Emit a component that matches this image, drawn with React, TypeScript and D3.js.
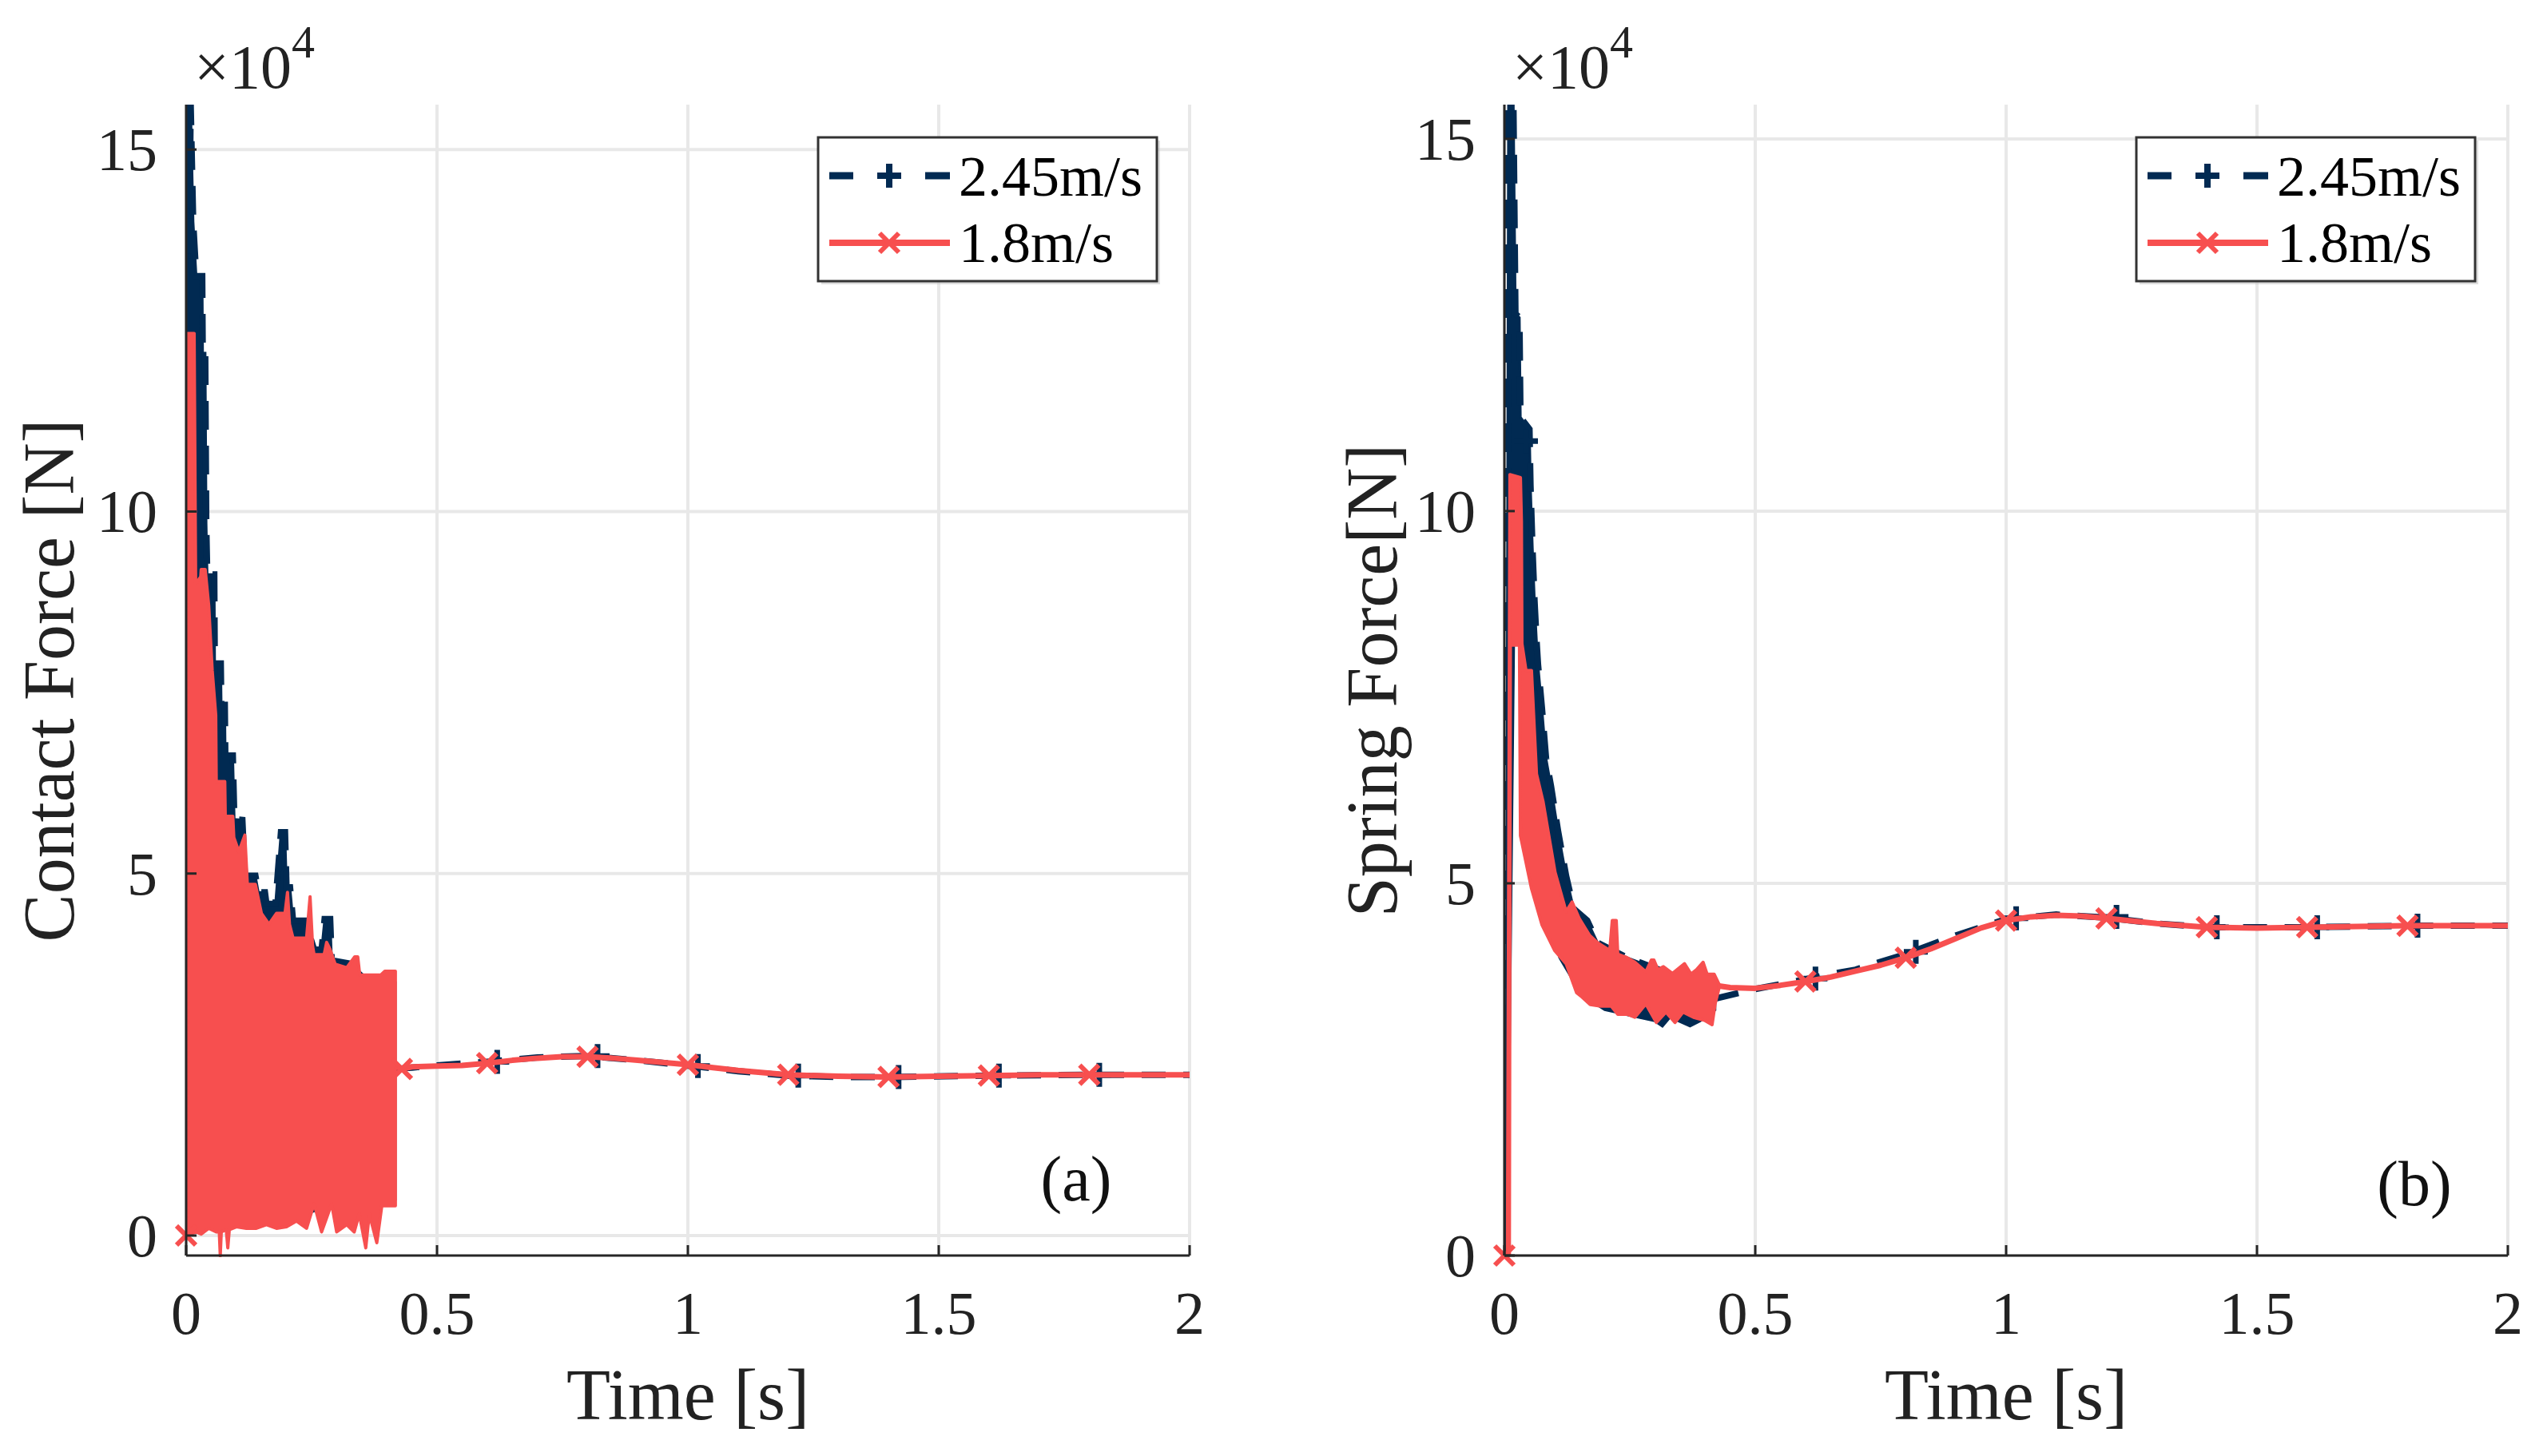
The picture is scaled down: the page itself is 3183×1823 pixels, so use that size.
import * as d3 from "d3";

// time in s, force in units of 1e4 N
const xTicks = [0, 0.5, 1, 1.5, 2];
const yTicks = [0, 5, 10, 15];
const legendNames = ["2.45m/s", "1.8m/s"];

// ---- (a) contact force, 2.45 m/s ----
const contactUpperT245 = [0, 0.001, 0.004, 0.006, 0.009, 0.014, 0.02, 0.032, 0.033, 0.038, 0.04, 0.042, 0.056, 0.057, 0.069, 0.07, 0.077, 0.078, 0.093, 0.096, 0.112, 0.117, 0.138, 0.144, 0.157, 0.16, 0.178, 0.189, 0.197, 0.2, 0.207, 0.213, 0.237, 0.255, 0.27, 0.276, 0.287, 0.29, 0.33, 0.36, 0.4, 0.417];
const contactUpperV245 = [0, 15.62, 15.62, 13.5, 15.62, 14.0, 13.25, 13.25, 12.19, 12.19, 9.83, 9.13, 9.13, 7.9, 7.9, 7.33, 7.33, 6.63, 6.63, 5.75, 5.74, 4.97, 4.97, 4.74, 4.74, 4.58, 4.58, 5.57, 5.57, 4.81, 4.81, 4.35, 4.35, 3.95, 3.95, 4.37, 4.37, 3.8, 3.75, 3.55, 3.55, 3.5];
const contactLowerT245 = [0, 0.02, 0.03, 0.06, 0.1, 0.2, 0.3, 0.417];
const contactLowerV245 = [0, 0.15, 0.1, 0.2, 0.2, 0.2, 0.45, 0.5];
const contactSteadyT245 = [0.417, 0.45, 0.5, 0.6, 0.7, 0.8, 0.9, 1.0, 1.1, 1.2, 1.3, 1.4, 1.6, 1.8, 2.0];
const contactSteadyV245 = [2.3, 2.32, 2.35, 2.4, 2.46, 2.48, 2.42, 2.35, 2.27, 2.21, 2.19, 2.19, 2.21, 2.22, 2.22];
const contactMarkT245 = [0.62, 0.82, 1.02, 1.22, 1.42, 1.62, 1.82];
const contactMarkV245 = [2.4, 2.48, 2.34, 2.21, 2.19, 2.21, 2.22];

// ---- (a) contact force, 1.8 m/s ----
const contactUpperT18 = [0, 0.002, 0.003, 0.016, 0.019, 0.029, 0.03, 0.038, 0.045, 0.052, 0.059, 0.06, 0.077, 0.078, 0.093, 0.095, 0.105, 0.117, 0.122, 0.138, 0.15, 0.165, 0.18, 0.197, 0.202, 0.206, 0.213, 0.24, 0.247, 0.252, 0.255, 0.275, 0.28, 0.287, 0.297, 0.32, 0.336, 0.342, 0.346, 0.37, 0.388, 0.396, 0.417];
const contactUpperV18 = [0, 11.0, 12.46, 12.46, 9.0, 9.1, 9.2, 9.2, 8.7, 7.8, 7.19, 6.27, 6.27, 5.79, 5.79, 5.5, 5.3, 5.53, 4.85, 4.85, 4.45, 4.3, 4.45, 4.45, 4.74, 4.3, 4.11, 4.11, 4.68, 4.0, 3.88, 3.88, 4.05, 3.95, 3.75, 3.7, 3.85, 3.85, 3.6, 3.6, 3.6, 3.65, 3.65];
const contactLowerT18 = [0, 0.01, 0.02, 0.03, 0.045, 0.06, 0.066, 0.068, 0.07, 0.08, 0.083, 0.086, 0.1, 0.12, 0.14, 0.16, 0.18, 0.2, 0.22, 0.24, 0.255, 0.27, 0.29, 0.3, 0.32, 0.335, 0.345, 0.358, 0.365, 0.38, 0.39, 0.417];
const contactLowerV18 = [0, 0.02, 0.05, 0.02, 0.1, 0.05, 0.05, -0.28, 0.05, 0.08, -0.17, 0.08, 0.12, 0.1, 0.1, 0.15, 0.1, 0.12, 0.2, 0.1, 0.44, 0.05, 0.44, 0.05, 0.15, 0.05, 0.3, -0.17, 0.3, -0.1, 0.41, 0.41];
const contactSteadyT18 = [0.417, 0.43, 0.45, 0.5, 0.55, 0.6, 0.65, 0.7, 0.75, 0.8, 0.85, 0.9, 0.95, 1.0, 1.05, 1.1, 1.15, 1.2, 1.3, 1.4, 1.5, 1.6, 1.7, 1.8, 1.9, 2.0];
const contactSteadyV18 = [2.34, 2.3, 2.33, 2.34, 2.35, 2.38, 2.42, 2.45, 2.47, 2.47, 2.45, 2.42, 2.39, 2.36, 2.32, 2.28, 2.25, 2.22, 2.2, 2.19, 2.2, 2.21, 2.22, 2.22, 2.22, 2.22];
const contactMarkT18 = [0, 0.43, 0.6, 0.8, 1.0, 1.2, 1.4, 1.6, 1.8];
const contactMarkV18 = [0, 2.3, 2.38, 2.47, 2.36, 2.22, 2.19, 2.21, 2.22];

// ---- (b) spring force, 2.45 m/s ----
const springUpperT245 = [0, 0.003, 0.008, 0.018, 0.022, 0.03, 0.032, 0.05, 0.052, 0.056, 0.06, 0.064, 0.067, 0.075, 0.083, 0.093, 0.107, 0.123, 0.138, 0.165, 0.186, 0.245, 0.3, 0.35, 0.42];
const springUpperV245 = [0, 0, 15.46, 15.46, 12.65, 12.6, 11.26, 11.1, 10.35, 9.5, 8.8, 8.27, 7.94, 7.34, 6.68, 6.3, 5.7, 5.1, 4.66, 4.5, 4.2, 4.0, 3.86, 3.75, 3.6];
const springLowerT245 = [0, 0.003, 0.006, 0.02, 0.03, 0.05, 0.075, 0.11, 0.154, 0.2, 0.3, 0.315, 0.33, 0.37, 0.39, 0.42];
const springLowerV245 = [0, 0, 0, 9.0, 9.0, 6.0, 4.8, 4.0, 3.5, 3.3, 3.15, 3.08, 3.2, 3.08, 3.15, 3.3];
const springSteadyT245 = [0.42, 0.5, 0.6, 0.65, 0.7, 0.8, 0.9, 1.0, 1.1, 1.2, 1.3, 1.4, 1.6, 1.8, 2.0];
const springSteadyV245 = [3.45, 3.58, 3.71, 3.78, 3.84, 4.05, 4.3, 4.52, 4.58, 4.54, 4.46, 4.41, 4.41, 4.43, 4.43];
const springMarkT245 = [0.043, 0.62, 0.82, 1.02, 1.22, 1.42, 1.62, 1.82];
const springMarkV245 = [10.94, 3.72, 4.08, 4.53, 4.55, 4.41, 4.41, 4.43];

// ---- (b) spring force, 1.8 m/s ----
const springUpperT18 = [0, 0.006, 0.011, 0.032, 0.034, 0.035, 0.043, 0.054, 0.064, 0.077, 0.101, 0.123, 0.135, 0.149, 0.17, 0.186, 0.21, 0.215, 0.223, 0.226, 0.245, 0.26, 0.282, 0.293, 0.298, 0.306, 0.317, 0.335, 0.359, 0.372, 0.383, 0.396, 0.404, 0.418, 0.428];
const springUpperV18 = [0, 0, 10.49, 10.45, 9.86, 8.22, 7.86, 7.86, 6.47, 6.1, 5.15, 4.62, 4.75, 4.53, 4.3, 4.2, 4.1, 4.5, 4.5, 4.05, 4.0, 3.94, 3.81, 3.97, 3.97, 3.84, 3.88, 3.79, 3.92, 3.78, 3.84, 3.94, 3.78, 3.78, 3.64];
const springLowerT18 = [0, 0.006, 0.01, 0.012, 0.03, 0.032, 0.054, 0.075, 0.1, 0.123, 0.144, 0.155, 0.171, 0.192, 0.213, 0.226, 0.245, 0.26, 0.282, 0.303, 0.322, 0.34, 0.356, 0.377, 0.399, 0.414, 0.42, 0.428];
const springLowerV18 = [0, 0, 0, 8.2, 8.2, 5.64, 4.93, 4.44, 4.1, 3.92, 3.53, 3.47, 3.37, 3.35, 3.35, 3.24, 3.24, 3.2, 3.38, 3.13, 3.27, 3.13, 3.27, 3.2, 3.16, 3.1, 3.38, 3.6];
const springSteadyT18 = [0.428, 0.45, 0.5, 0.55, 0.6, 0.65, 0.7, 0.75, 0.8, 0.85, 0.9, 0.95, 1.0, 1.05, 1.1, 1.15, 1.2, 1.3, 1.4, 1.5, 1.6, 1.7, 1.8, 1.9, 2.0];
const springSteadyV18 = [3.62, 3.6, 3.59, 3.63, 3.68, 3.74, 3.82, 3.9, 4.0, 4.12, 4.26, 4.4, 4.5, 4.55, 4.57, 4.56, 4.53, 4.46, 4.41, 4.4, 4.41, 4.42, 4.43, 4.43, 4.43];
const springMarkT18 = [0, 0.6, 0.8, 1.0, 1.2, 1.4, 1.6, 1.8];
const springMarkV18 = [0, 3.68, 4.0, 4.5, 4.53, 4.41, 4.41, 4.43];

const NAVY = "#012a52";
const RED = "#f74f4f";
const FONT = "'Liberation Serif', 'Times New Roman', serif";

type Pt = [number, number];
const zip = (t: number[], v: number[]): Pt[] => t.map((d, i) => [d, v[i]]);

type Series = {
  upperT: number[]; upperV: number[];
  lowerT: number[]; lowerV: number[];
  steadyT: number[]; steadyV: number[];
  markT: number[]; markV: number[];
};

const contact245: Series = { upperT: contactUpperT245, upperV: contactUpperV245, lowerT: contactLowerT245, lowerV: contactLowerV245, steadyT: contactSteadyT245, steadyV: contactSteadyV245, markT: contactMarkT245, markV: contactMarkV245 };
const contact18: Series = { upperT: contactUpperT18, upperV: contactUpperV18, lowerT: contactLowerT18, lowerV: contactLowerV18, steadyT: contactSteadyT18, steadyV: contactSteadyV18, markT: contactMarkT18, markV: contactMarkV18 };
const spring245: Series = { upperT: springUpperT245, upperV: springUpperV245, lowerT: springLowerT245, lowerV: springLowerV245, steadyT: springSteadyT245, steadyV: springSteadyV245, markT: springMarkT245, markV: springMarkV245 };
const spring18: Series = { upperT: springUpperT18, upperV: springUpperV18, lowerT: springLowerT18, lowerV: springLowerV18, steadyT: springSteadyT18, steadyV: springSteadyV18, markT: springMarkT18, markV: springMarkV18 };

const TOP = 131;
const BOTTOM = 1572;
const WIDTH = 1256;

const plusPath = (cx: number, cy: number) => `M${cx - 15},${cy}h30M${cx},${cy - 15}v30`;
const crossPath = (cx: number, cy: number) => `M${cx - 12},${cy - 12}l24,24M${cx + 12},${cy - 12}l-24,24`;

function Panel({ x0, yMin, yMax, ylabel, labelX, tag, tagX, tagY, s245, s18, id }: {
  x0: number; yMin: number; yMax: number; ylabel: string; labelX: number;
  tag: string; tagX: number; tagY: number; s245: Series; s18: Series; id: string;
}) {
  const x = d3.scaleLinear().domain([0, 2]).range([x0, x0 + WIDTH]);
  const y = d3.scaleLinear().domain([yMin, yMax]).range([BOTTOM, TOP]);
  const line = d3.line<Pt>().x((d) => x(d[0])).y((d) => y(d[1]));
  const band = (s: Series) =>
    line([...zip(s.upperT, s.upperV), ...zip(s.lowerT, s.lowerV).reverse()]) + "Z";

  const legX = x0 + 791;
  return (
    <g>
      <defs>
        <clipPath id={id}>
          <rect x={x0} y={TOP} width={WIDTH} height={BOTTOM - TOP + 2} />
        </clipPath>
      </defs>
      {/* grid */}
      {xTicks.map((t) => (
        <line key={"gx" + t} x1={x(t)} x2={x(t)} y1={TOP} y2={BOTTOM} stroke="#e8e8e8" strokeWidth={4} />
      ))}
      {yTicks.map((v) => (
        <line key={"gy" + v} x1={x0} x2={x0 + WIDTH} y1={y(v)} y2={y(v)} stroke="#e8e8e8" strokeWidth={4} />
      ))}

      {/* data: 2.45 m/s first, 1.8 m/s on top */}
      <g clipPath={`url(#${id})`}>
        <path d={band(s245)} fill={NAVY} stroke={NAVY} strokeWidth={3} />
        <path d={line(zip(s245.upperT, s245.upperV))!} fill="none" stroke={NAVY} strokeWidth={8} strokeDasharray="36 20" />
        <path d={line(zip(s245.steadyT, s245.steadyV))!} fill="none" stroke={NAVY} strokeWidth={8} strokeDasharray="30 22" />
      </g>
      {s245.markT.map((t, i) => (
        <path key={"p" + i} d={plusPath(x(t), y(s245.markV[i]))} stroke={NAVY} strokeWidth={7} fill="none" />
      ))}
      <g clipPath={`url(#${id})`}>
        <path d={band(s18)} fill={RED} stroke={RED} strokeWidth={4} strokeLinejoin="round" />
        <path d={line(zip(s18.steadyT, s18.steadyV))!} fill="none" stroke={RED} strokeWidth={7} strokeLinejoin="round" />
      </g>
      {s18.markT.map((t, i) => (
        <path key={"x" + i} d={crossPath(x(t), y(s18.markV[i]))} stroke={RED} strokeWidth={6} fill="none" />
      ))}

      {/* axes */}
      <line x1={x0} x2={x0} y1={TOP} y2={BOTTOM} stroke="#262626" strokeWidth={3} />
      <line x1={x0} x2={x0 + WIDTH} y1={BOTTOM} y2={BOTTOM} stroke="#262626" strokeWidth={3} />
      {xTicks.map((t) => (
        <g key={"tx" + t}>
          <line x1={x(t)} x2={x(t)} y1={BOTTOM} y2={BOTTOM - 13} stroke="#262626" strokeWidth={3} />
          <text x={x(t)} y={1670} textAnchor="middle" fontFamily={FONT} fontSize={76} fill="#222">{t}</text>
        </g>
      ))}
      {yTicks.map((v) => (
        <g key={"ty" + v}>
          <line x1={x0} x2={x0 + 13} y1={y(v)} y2={y(v)} stroke="#262626" strokeWidth={3} />
          <text x={x0 - 36} y={y(v) + 26} textAnchor="end" fontFamily={FONT} fontSize={76} fill="#222">{v}</text>
        </g>
      ))}
      <text x={x0 + 10} y={110} fontFamily={FONT} fontSize={78} fill="#222">
        ×10<tspan dy={-38} fontSize={58}>4</tspan>
      </text>

      {/* axis titles */}
      <text x={x0 + WIDTH / 2} y={1777} textAnchor="middle" fontFamily={FONT} fontSize={90} fill="#222">Time [s]</text>
      <text transform={`translate(${labelX},${852}) rotate(-90)`} textAnchor="middle" fontFamily={FONT} fontSize={90} fill="#222">{ylabel}</text>
      <text x={tagX} y={tagY} textAnchor="middle" fontFamily={FONT} fontSize={80} fill="#111">{tag}</text>

      {/* legend */}
      <rect x={legX + 4} y={176} width={424} height={180} fill="#bdbdbd" opacity={0.5} />
      <rect x={legX} y={172} width={424} height={180} fill="#fff" stroke="#333" strokeWidth={3} />
      <line x1={legX + 14} x2={legX + 165} y1={220} y2={220} stroke={NAVY} strokeWidth={9} strokeDasharray="30 90 31" />
      <path d={plusPath(legX + 89, 220)} stroke={NAVY} strokeWidth={8} fill="none" />
      <text x={legX + 176} y={245} fontFamily={FONT} fontSize={72} fill="#000">{legendNames[0]}</text>
      <line x1={legX + 14} x2={legX + 165} y1={304} y2={304} stroke={RED} strokeWidth={8} />
      <path d={crossPath(legX + 89, 304)} stroke={RED} strokeWidth={6} fill="none" />
      <text x={legX + 176} y={328} fontFamily={FONT} fontSize={72} fill="#000">{legendNames[1]}</text>
    </g>
  );
}

export default function App() {
  return (
    <svg
      width={3183}
      height={1823}
      viewBox="0 0 3183 1823"
      style={{ position: "absolute", left: 0, top: 0, background: "#fff" }}
    >
      <rect width={3183} height={1823} fill="#fff" />
      <Panel x0={233} yMin={-0.276} yMax={15.62} ylabel="Contact Force [N]" labelX={92}
        tag="(a)" tagX={1347} tagY={1503} s245={contact245} s18={contact18} id="clipA" />
      <Panel x0={1883} yMin={0} yMax={15.46} ylabel="Spring Force[N]" labelX={1748}
        tag="(b)" tagX={3022} tagY={1509} s245={spring245} s18={spring18} id="clipB" />
    </svg>
  );
}
